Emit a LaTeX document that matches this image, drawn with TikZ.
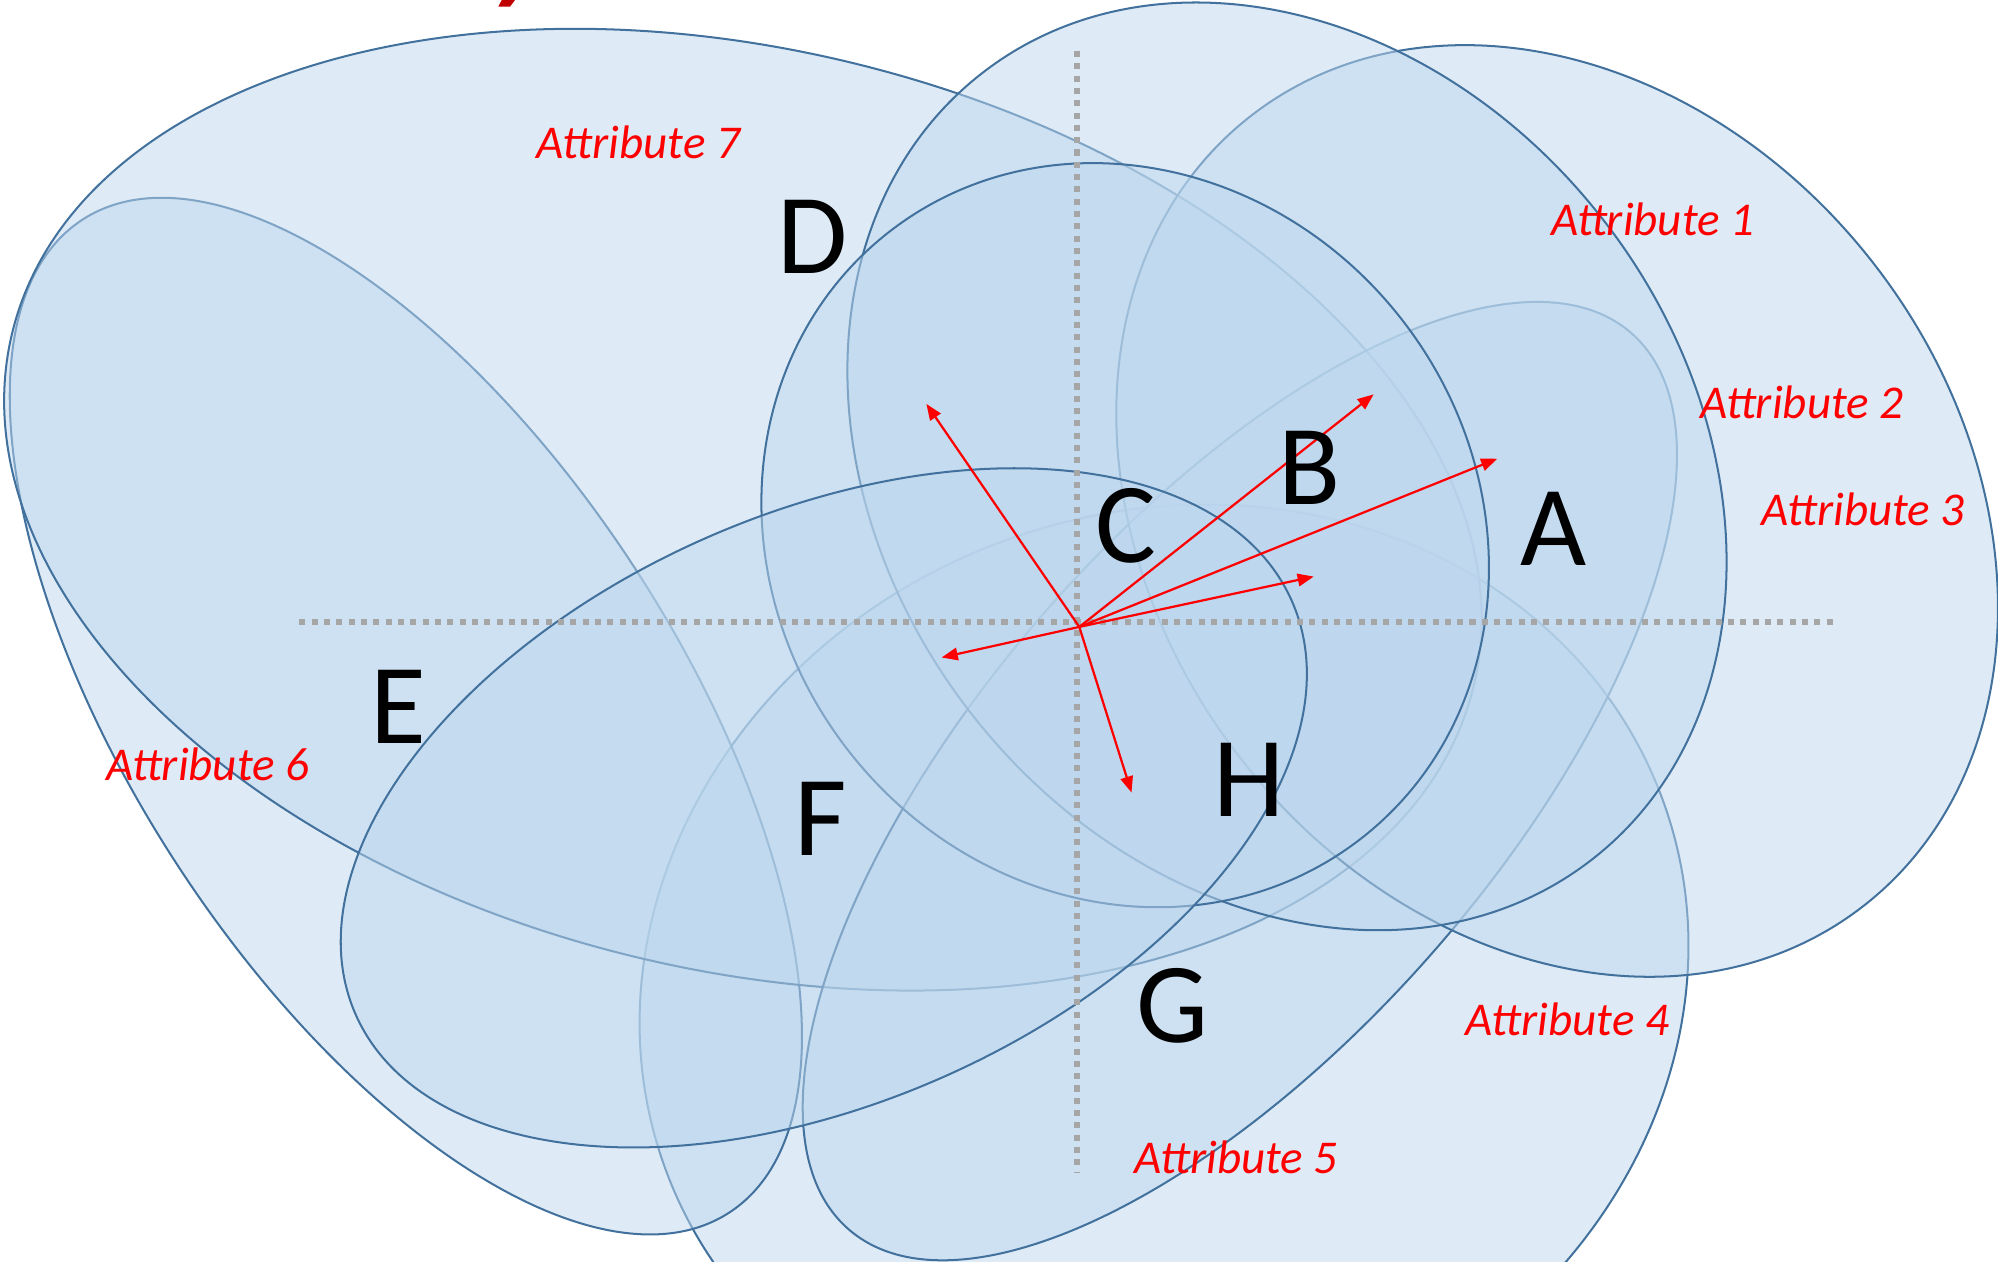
\documentclass[tikz,border=0pt]{standalone}
\usepackage{fontspec}
\setmainfont{Carlito}
\usetikzlibrary{arrows.meta}
\definecolor{blobline}{RGB}{65,113,156}
\definecolor{blobfill}{RGB}{189,215,238}
\definecolor{axisgray}{RGB}{166,166,166}
\definecolor{darkred}{RGB}{192,0,0}
\tikzset{
  blob/.style={draw=blobline, fill=blobfill, fill opacity=0.5, line width=0.45pt},
  axisline/.style={draw=axisgray, line width=1.35pt, dash pattern=on 1.35pt off 1.4pt},
  vec/.style={draw=red, line width=0.5pt, -{Triangle[length=3.6pt,width=2.8pt]}},
  letter/.style={font=\fontsize{25.5}{30}\selectfont, inner sep=0pt, text=black},
  attr/.style={text=red, font=\fontsize{10.5}{12}\selectfont\itshape, inner sep=0pt}
}
\begin{document}
\begin{tikzpicture}
\useasboundingbox (0,0) rectangle (15.68,9.90);
% title fragment
\fill[darkred] (3.938,9.90) -- (4.042,9.90) -- (4.003,9.848) -- (3.911,9.848) -- cycle;
% ellipses (draw order matters for line shading)
\path[blob, shift={(9.135,2.175)}, rotate=21.1] (0,0) ellipse [x radius=4.173cm, y radius=3.70cm];   % Attribute 5
\path[blob, shift={(3.185,4.28)}, rotate=-56.9] (0,0) ellipse [x radius=4.65cm, y radius=2.14cm];    % Attribute 6
\path[blob, shift={(5.83,5.90)}, rotate=-13.6] (0,0) ellipse [x radius=5.90cm, y radius=3.61cm];     % Attribute 7
\path[blob, shift={(9.73,3.77)}, rotate=48.85] (0,0) ellipse [x radius=4.669cm, y radius=2.025cm];   % A
\path[blob, shift={(12.22,5.89)}, rotate=-52.4] (0,0) ellipse [x radius=3.923cm, y radius=3.153cm];  % Attribute 1
\path[blob, shift={(10.10,6.24)}, rotate=-52.3] (0,0) ellipse [x radius=3.905cm, y radius=3.147cm];  % D
\path[blob, shift={(8.83,5.70)}, rotate=-52.15] (0,0) ellipse [x radius=3.016cm, y radius=2.753cm];  % C
\path[blob, shift={(6.465,3.56)}, rotate=23.84] (0,0) ellipse [x radius=4.016cm, y radius=2.311cm];  % H/F
% axes
\coordinate (hl) at (2.35,5.02);
\coordinate (hr) at (14.40,5.02);
\coordinate (vt) at (8.45,9.50);
\coordinate (vb) at (8.45,0.70);
\draw[axisline] (hl) -- (hr);
\draw[axisline] (vt) -- (vb);
% vectors
\coordinate (o) at (8.47,4.98);
\coordinate (t1) at (7.27,6.73);
\coordinate (t2) at (10.78,6.805);
\coordinate (t3) at (11.75,6.30);
\coordinate (t4) at (10.31,5.375);
\coordinate (t5) at (7.39,4.74);
\coordinate (t6) at (8.88,3.68);
\foreach \t in {t1,t2,t3,t4,t5,t6} \draw[vec] (o) -- (\t);
% letters
\node[letter] (lD) at (6.38,8.04) {D};
\node[letter] (lC) at (8.84,5.77) {C};
\node[letter] (lB) at (10.28,6.23) {B};
\node[letter] (lA) at (12.19,5.75) {A};
\node[letter] (lE) at (3.13,4.35) {E};
\node[letter] (lF) at (6.44,3.47) {F};
\node[letter] (lH) at (9.80,3.78) {H};
\node[letter] (lG) at (9.20,2.01) {G};
% attributes
\node[attr] (a7) at (5.01,8.78) {Attribute 7};
\node[attr] (a1) at (12.97,8.18) {Attribute 1};
\node[attr] (a2) at (14.14,6.74) {Attribute 2};
\node[attr] (a3) at (14.62,5.90) {Attribute 3};
\node[attr] (a6) at (1.63,3.90) {Attribute 6};
\node[attr] (a4) at (12.30,1.90) {Attribute 4};
\node[attr] (a5) at (9.70,0.82) {Attribute 5};
\end{tikzpicture}
\end{document}
